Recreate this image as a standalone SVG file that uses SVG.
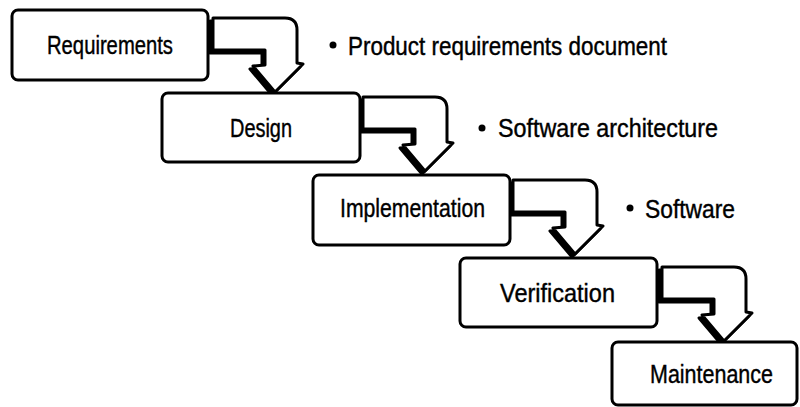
<svg xmlns="http://www.w3.org/2000/svg" width="800" height="407" viewBox="0 0 800 407">
<style>
.box{fill:#fff;stroke:#000;stroke-width:3;stroke-linejoin:round}
.lbl{font-family:"Liberation Sans",Arial,sans-serif;font-size:25px;fill:#000;stroke:#000;stroke-width:0.4}
.arrow{fill:#fff;stroke:#000;stroke-width:3;stroke-linejoin:round}
.shadow{fill:#000;stroke:#000;stroke-width:3;stroke-linejoin:round}
</style>
<defs>
<path id="bend" d="M0,0 H72 Q84,0 84,12 V45 L90,46 L62,74 L40,48 L52,47 V32 H0 Z"/>
<g id="arrowShape">
<use href="#bend" class="shadow" transform="translate(-3,3)"/>
<use href="#bend" class="arrow"/>
</g>
</defs>
<rect width="800" height="407" fill="#fff"/>
<g id="connectors">
<use href="#arrowShape" transform="translate(213,18)"/>
<use href="#arrowShape" transform="translate(363,97)"/>
<use href="#arrowShape" transform="translate(513,180)"/>
<use href="#arrowShape" transform="translate(662,267)"/>
</g>
<g id="requirements">
<rect class="box" x="12" y="10" width="196" height="70" rx="6"/>
<text class="lbl" x="47" y="54" textLength="126" lengthAdjust="spacingAndGlyphs">Requirements</text>
</g>
<g id="design">
<rect class="box" x="162" y="93" width="198" height="69" rx="6"/>
<text class="lbl" x="230" y="137" textLength="62" lengthAdjust="spacingAndGlyphs">Design</text>
</g>
<g id="implementation">
<rect class="box" x="313" y="175" width="197" height="70" rx="6"/>
<text class="lbl" x="340" y="217" textLength="145" lengthAdjust="spacingAndGlyphs">Implementation</text>
</g>
<g id="verification">
<rect class="box" x="460" y="258" width="197" height="69" rx="6"/>
<text class="lbl" x="500" y="302" textLength="115" lengthAdjust="spacingAndGlyphs">Verification</text>
</g>
<g id="maintenance">
<rect class="box" x="612" y="342" width="185" height="63" rx="6"/>
<text class="lbl" x="650" y="383" textLength="123" lengthAdjust="spacingAndGlyphs">Maintenance</text>
</g>
<g id="outputs">
<circle cx="333" cy="45" r="3.5"/>
<text class="lbl" x="348" y="55" textLength="319" lengthAdjust="spacingAndGlyphs">Product requirements document</text>
<circle cx="482" cy="128" r="3.5"/>
<text class="lbl" x="498" y="137" textLength="220" lengthAdjust="spacingAndGlyphs">Software architecture</text>
<circle cx="630" cy="208" r="3.5"/>
<text class="lbl" x="645" y="218" textLength="90" lengthAdjust="spacingAndGlyphs">Software</text>
</g>
</svg>
